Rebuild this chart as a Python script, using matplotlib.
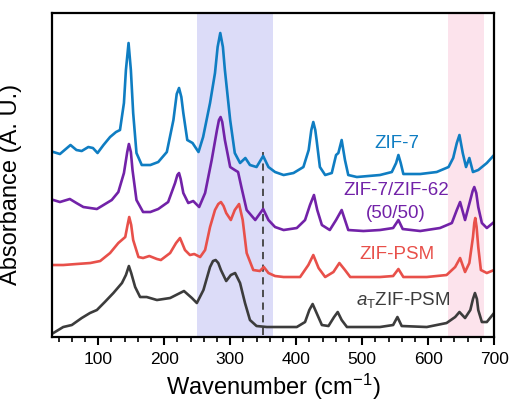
import matplotlib
matplotlib.use("Agg")
import matplotlib.pyplot as plt
from matplotlib.ticker import MultipleLocator

plt.rcParams["font.family"] = ["Liberation Sans", "DejaVu Sans"]
plt.rcParams["mathtext.fontset"] = "custom"
plt.rcParams["mathtext.rm"] = "Liberation Sans"
plt.rcParams["mathtext.it"] = "Liberation Sans:italic"

# spectra (wavenumber in cm-1, absorbance in a.u., offset already included)
zif7_x = [32, 42, 58, 67, 75, 85, 92, 99, 108, 118, 127, 133, 139, 142, 146, 149.5, 153, 158, 166, 179, 191,
          204, 214, 219, 222.5, 226, 229, 235, 243, 252, 259, 269.5, 277, 281, 285, 289, 292, 300, 307, 315, 323, 330,
          340, 350, 358, 368, 381, 396, 411, 419, 423, 426, 429, 431, 436, 444, 454, 460.5, 464, 469, 474,
          479, 492, 527, 545, 551.5, 555, 558.5, 562.5, 588, 613, 631, 638, 643.5, 647.5, 652.5,
          657.5, 662.5, 668, 676, 689, 700]
zif7_y = [185, 183, 192, 187, 186, 190, 189, 184, 192, 200, 205, 207, 234, 267, 294, 267, 224, 184, 172, 172, 175,
          185, 217, 243, 249, 240, 224, 197, 194, 185, 200, 234, 264, 290, 304, 290, 267, 217, 184, 174, 179, 172,
          170, 181, 170, 165, 162, 164, 170, 187, 207, 215, 207, 197, 170, 162, 164, 182, 184, 197, 177,
          162, 160, 162, 165, 174, 182, 174, 163, 163, 165, 170, 179, 194, 202, 184,
          170, 179, 165, 167, 174, 182]

mix_x = [32, 42, 57, 67, 77.5, 98, 108, 120.5, 130.5, 139, 144, 146.5, 149.5, 152, 158, 168, 179, 191, 206, 216.5,
         220, 222.5, 225, 229, 236.5, 244, 253, 262, 272, 280, 283, 285.5, 288, 292, 300, 307, 312, 317, 325, 338, 350,
         358, 368, 381, 401, 413.5, 421, 427, 432, 439, 451, 460.5, 469, 474, 479, 502, 527, 547,
         555, 561.5, 588, 618, 636, 643.5, 648.5, 656, 664, 667.5, 670, 673, 676, 681.5, 689, 700]
mix_y = [137, 135, 138, 134, 130, 128, 132, 137, 145, 164, 185, 193, 185, 167, 137, 125, 125, 128, 135, 154,
         162, 164, 158, 144, 134, 136, 130, 144, 177, 207, 217, 220, 215, 197, 170, 167, 165, 150, 127, 117, 128,
         117, 110, 107, 109, 117, 132, 142, 127, 112, 107, 117, 127, 117, 107, 106, 107, 109,
         117, 108, 106, 109, 114, 127, 135, 117, 137, 146, 150, 144, 130, 114, 109, 115]

psm_x = [32, 47, 67, 88, 103, 118, 130.5, 141, 144.5, 147, 150, 153, 161, 168, 177.5, 189, 195, 209, 218, 224,
         231.5, 239, 245.5, 254.5, 262, 269.5, 277, 282, 286, 290, 294, 301, 307, 313.5, 319, 325, 335, 345,
         351, 358, 368, 381, 406, 418.5, 426, 434, 444, 456.5, 465.5, 474, 482, 527, 547, 555,
         562.5, 598, 628, 641, 648.5, 656, 662.5, 668, 670, 671.5, 673.5, 676, 680, 689, 700]
psm_y = [72, 72, 73, 74, 76, 84, 94, 100, 112, 120, 112, 97, 80, 79, 81, 78, 77, 84, 94, 99,
         87, 82, 83, 80, 87, 110, 127, 133, 135, 131, 124, 117, 127, 133, 117, 84, 67, 66,
         70, 64, 61, 60, 60, 72, 82, 69, 60, 65, 74, 67, 60, 60, 61, 68,
         60, 60, 62, 70, 79, 65, 74, 100, 114, 119, 110, 90, 67, 64, 67]

at_x = [32, 47, 60, 75, 87.5, 98, 110, 123, 136, 142, 146.5, 150, 156, 163.5, 173.5, 189, 209, 230, 242,
        249.5, 259.5, 269.5, 274, 278, 282, 286, 294, 301, 307.5, 315, 322.5, 330, 340, 355.5, 401, 413.5,
        420, 425, 431, 439, 449, 457.5, 463, 469, 477, 527, 547, 553.5, 560, 598, 628, 641, 647.5,
        656, 664, 668, 671, 674, 676, 681.5, 689, 700]
at_y = [4, 10, 12, 19, 24, 27, 35, 44, 54, 62, 71, 64, 50, 40, 40, 37, 39, 46, 39,
        34, 47, 70, 76, 77, 74, 67, 56, 62, 64, 54, 34, 17, 11, 10, 10, 15,
        27, 33, 24, 12, 11, 20, 25, 17, 10, 10, 12, 20, 11, 10, 14, 20, 25,
        19, 27, 38, 44, 38, 27, 15, 15, 24]

series = [
    (zif7_x, zif7_y, "#0f7dc2"),
    (mix_x, mix_y, "#7222a8"),
    (psm_x, psm_y, "#e8504a"),
    (at_x, at_y, "#3c3c3c"),
]

fig = plt.figure(figsize=(5.12, 4.04), dpi=100)
ax = fig.add_axes([0.1016, 0.1658, 0.8634, 0.802])

ax.axvspan(250, 365, color="#dcdcf8", lw=0, zorder=0)
ax.axvspan(630, 685, color="#fce3ec", lw=0, zorder=0)
ax.vlines(350, 2, 185, colors="#404040", linestyles=(0, (4, 3)), lw=1.3, zorder=1)

for x, y, c in series:
    ax.plot(x, y, color=c, lw=1.9, zorder=2, solid_joinstyle="round")

fs = 13.5
ax.text(553, 194, "ZIF-7", color="#0f7dc2", fontsize=fs, ha="center", va="center")
ax.text(551, 147, "ZIF-7/ZIF-62", color="#7222a8", fontsize=fs, ha="center", va="center")
ax.text(551, 124, "(50/50)", color="#7222a8", fontsize=fs, ha="center", va="center")
ax.text(553, 83, "ZIF-PSM", color="#e8504a", fontsize=fs, ha="center", va="center")
ax.text(562, 37, r"$a_{\mathrm{T}}$ZIF-PSM", color="#3c3c3c", fontsize=fs, ha="center", va="center")

ax.set_xlim(30, 700)
ax.set_ylim(0, 324)
ax.set_yticks([])
ax.set_xticks([100, 200, 300, 400, 500, 600, 700])
ax.xaxis.set_minor_locator(MultipleLocator(20))
ax.tick_params(axis="x", which="major", direction="out", length=6, width=1.5, labelsize=12.5, pad=5)
ax.tick_params(axis="x", which="minor", direction="out", length=3.5, width=1.2)
for s in ax.spines.values():
    s.set_linewidth(1.6)

ax.set_xlabel("Wavenumber (cm$^{-1}$)", fontsize=17, labelpad=3)
ax.set_ylabel("Absorbance (A. U.)", fontsize=17)
ax.yaxis.set_label_coords(-0.068, 0.47)

fig.savefig("out.png", dpi=100)
